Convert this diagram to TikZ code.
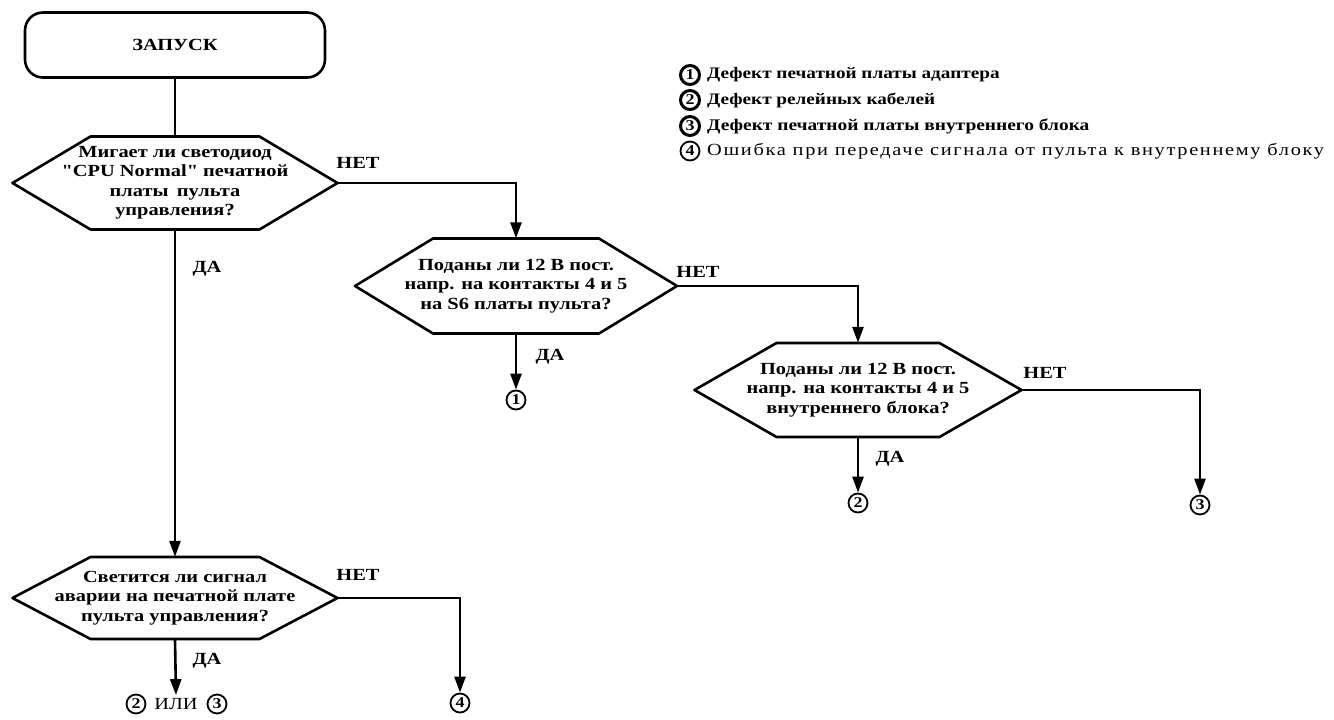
\documentclass[tikz,border=0pt]{standalone}
\usepackage{fontspec}
\setmainfont{Liberation Serif}[FakeStretch=1.2,Ligatures=TeXOff]
\newfontfamily\legfour{Liberation Serif}[FakeStretch=1.2,LetterSpace=9.8,Ligatures=TeXOff]
\usetikzlibrary{arrows.meta,calc}
\newcommand\hexa[4]{%
  \draw[line width=2.6pt,line join=round] ($(#1)+(-#2,0)$) -- ($(#1)+({-#2+#4},-#3)$) -- ($(#1)+({#2-#4},-#3)$) -- ($(#1)+(#2,0)$) -- ($(#1)+({#2-#4},#3)$) -- ($(#1)+({-#2+#4},#3)$) -- cycle;}
\begin{document}
\begin{tikzpicture}[x=1pt,y=-1pt,
  every node/.style={font=\bfseries\fontsize{17}{19.5}\selectfont},
  startbox/.style={draw,rounded corners=18pt,minimum width=300pt,minimum height=65pt,line width=2.6pt},
  dec/.style={align=center,inner sep=0pt},
  flow/.style={line width=2.6pt,-{Triangle[length=16pt,width=11pt]}},
  plain/.style={line width=2.6pt},
  lbl/.style={anchor=west,inner sep=0pt},
  yn/.style={inner sep=0pt},
  num/.style={circle,draw,line width=1.8pt,inner sep=0pt,minimum size=19pt,font=\bfseries\fontsize{15}{15}\selectfont},
  bignum/.style={num,line width=3pt},
]
\useasboundingbox (0,0) rectangle (1334,720);

% start
\node[startbox] (start) at (175,45) {ЗАПУСК};

% decisions
\node[dec,minimum width=325pt,minimum height=93pt] (d1) at (175,183)
  {Мигает ли светодиод\\"CPU Normal" печатной\\платы\enspace пульта\\управления?};
\hexa{d1}{162.5}{46.5}{78}
\node[dec,minimum width=322pt,minimum height=95pt] (d2) at (516,286)
  {Поданы ли 12 В пост.\\напр. на контакты 4 и 5\\на S6 платы пульта?};
\hexa{d2}{161}{47.5}{78}
\node[dec,minimum width=327pt,minimum height=94pt] (d3) at (858,390)
  {Поданы ли 12 В пост.\\напр. на контакты 4 и 5\\внутреннего блока?};
\hexa{d3}{163.5}{47}{82}
\node[dec,minimum width=325pt,minimum height=82pt] (d4) at (175,598)
  {Светится ли сигнал\\аварии на печатной плате\\пульта управления?};
\hexa{d4}{162.5}{41}{78}

% terminals
\node[num] (c1) at (516,400) {1};
\node[num] (c2) at (858,503) {2};
\node[num] (c3) at (1200,505) {3};
\node[num] (c4) at (460,703) {4};
\node[num] (o2) at (136,704) {2};
\node[font=\fontsize{17}{19.5}\selectfont,inner sep=0pt] (ili) at (176,704) {ИЛИ};
\node[num] (o3) at (217,704) {3};

% bends
\coordinate (k1) at (516,183);
\coordinate (k2) at (858,286);
\coordinate (k3) at (1200,390);
\coordinate (k4) at (460,598);

% connectors
\draw[plain] (start.south) -- (d1.north);
\draw[flow] (d1.south) -- (d4.north);
\draw[flow] (d1.east) -- (k1) -- (d2.north);
\draw[flow] (d2.south) -- (c1.north);
\draw[flow] (d2.east) -- (k2) -- (d3.north);
\draw[flow] (d3.south) -- (c2.north);
\draw[flow] (d3.east) -- (k3) -- (c3.north);
\draw[flow] (d4.east) -- (k4) -- (c4.north);
\draw[flow] (d4.south) -- ($(ili.north)+(0,-3)$);

% yes/no labels
\node[yn] at (358,163) {НЕТ};
\node[yn] at (698,272) {НЕТ};
\node[yn] at (1045,373) {НЕТ};
\node[yn] at (358,575) {НЕТ};
\node[yn] at (207,269) {ДА};
\node[yn] at (550,357) {ДА};
\node[yn] at (890,459) {ДА};
\node[yn] at (207,661) {ДА};

% legend
\node[bignum] (l1) at (690,75) {1};
\node[lbl,font=\bfseries\fontsize{16}{19}\selectfont] (t1) at (707,75) {Дефект печатной платы адаптера};
\node[bignum] (l2) at (690,100) {2};
\node[lbl,font=\bfseries\fontsize{16}{19}\selectfont] (t2) at (707,100) {Дефект релейных кабелей};
\node[bignum] (l3) at (690,126) {3};
\node[lbl,font=\bfseries\fontsize{16.2}{19}\selectfont] (t3) at (707,126) {Дефект печатной платы внутреннего блока};
\node[num] (l4) at (690,151) {4};
\node[lbl,font=\legfour\fontsize{17}{19.5}\selectfont] (t4) at (707,151) {Ошибка при передаче сигнала от пульта к внутреннему блоку};
\end{tikzpicture}
\end{document}
